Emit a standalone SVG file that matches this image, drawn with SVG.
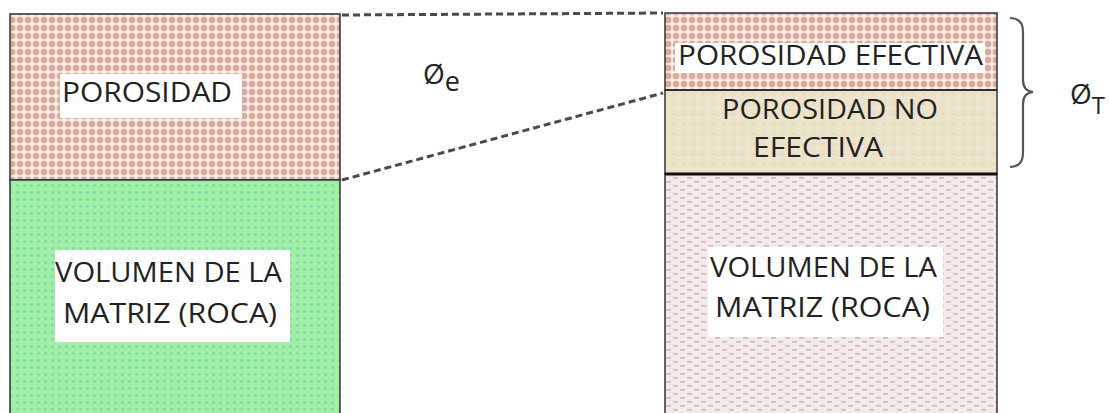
<svg xmlns="http://www.w3.org/2000/svg" width="1109" height="413" viewBox="0 0 1109 413">
<style>
.t{font-family:"Open Sans","Liberation Sans",sans-serif;font-size:27px;fill:#222;}
.sym{font-family:"Open Sans","Liberation Sans",sans-serif;font-size:28px;fill:#222;}
.lbl{fill:#fff;}
.border{stroke:#333;stroke-width:1.5;}
.dash{fill:none;stroke:#4a4a4a;stroke-width:3;stroke-dasharray:7 4;}
</style>
<defs>
<pattern id="pink" width="8" height="8" patternUnits="userSpaceOnUse">
<rect width="8" height="8" fill="#f7e6e0"/>
<circle cx="4" cy="4" r="3.2" fill="#dcaa9c"/>
<circle cx="0" cy="0" r="1.1" fill="#fff"/>
<circle cx="8" cy="0" r="1.1" fill="#fff"/>
<circle cx="0" cy="8" r="1.1" fill="#fff"/>
<circle cx="8" cy="8" r="1.1" fill="#fff"/>
</pattern>
<pattern id="green" width="7" height="7" patternUnits="userSpaceOnUse">
<rect width="7" height="7" fill="#9ff0a6"/>
<circle cx="3.5" cy="3.5" r="1.3" fill="#7ad6a2"/>
</pattern>
<pattern id="rock" width="14" height="8" patternUnits="userSpaceOnUse">
<rect width="14" height="8" fill="#f2ebea"/>
<rect x="1" y="1" width="5" height="1.6" fill="#d7b7bb"/>
<rect x="8" y="5" width="5" height="1.6" fill="#d7b7bb"/>
</pattern>
<pattern id="beige" width="10" height="10" patternUnits="userSpaceOnUse">
<rect width="10" height="10" fill="#ece3ca"/>
<rect x="2" y="3" width="3" height="2" fill="#e3d9bd"/>
<rect x="7" y="7" width="2" height="2" fill="#f2ebdb"/>
</pattern>
</defs>

<g id="left-porosidad">
<rect x="10" y="14" width="330" height="166" fill="url(#pink)" class="border"/>
<rect x="60" y="74" width="182" height="44" class="lbl"/>
<text x="62" y="102" class="t" textLength="170" lengthAdjust="spacingAndGlyphs">POROSIDAD</text>
</g>

<g id="left-matriz">
<rect x="10" y="180" width="330" height="240" fill="url(#green)" class="border"/>
<rect x="55" y="250" width="235" height="92" class="lbl"/>
<text x="55" y="282" class="t" textLength="227" lengthAdjust="spacingAndGlyphs">VOLUMEN DE LA</text>
<text x="63" y="323" class="t" textLength="214" lengthAdjust="spacingAndGlyphs">MATRIZ (ROCA)</text>
</g>

<g id="right-efectiva">
<rect x="665" y="13" width="332" height="77" fill="url(#pink)" class="border"/>
<rect x="675" y="43" width="310" height="30" class="lbl"/>
<text x="678" y="65" class="t" textLength="305" lengthAdjust="spacingAndGlyphs">POROSIDAD EFECTIVA</text>
</g>

<g id="right-no-efectiva">
<rect x="665" y="90" width="332" height="84" fill="url(#beige)" class="border"/>
<text x="722" y="119" class="t" textLength="216" lengthAdjust="spacingAndGlyphs">POROSIDAD NO</text>
<text x="753" y="157" class="t" textLength="130" lengthAdjust="spacingAndGlyphs">EFECTIVA</text>
</g>

<g id="right-matriz">
<rect x="665" y="174" width="332" height="250" fill="url(#rock)" class="border"/>
<line x1="665" y1="174" x2="997" y2="174" stroke="#111" stroke-width="3"/>
<line x1="665" y1="90" x2="997" y2="90" stroke="#3a2a26" stroke-width="2"/>
<rect x="708" y="247" width="235" height="90" class="lbl"/>
<text x="710" y="277" class="t" textLength="227" lengthAdjust="spacingAndGlyphs">VOLUMEN DE LA</text>
<text x="715" y="317" class="t" textLength="215" lengthAdjust="spacingAndGlyphs">MATRIZ (ROCA)</text>
</g>

<g id="phi-e">
<text x="423" y="84" class="sym">Ø<tspan font-size="27" dy="7">e</tspan></text>
</g>

<g id="phi-t">
<text x="1070" y="104" class="sym" font-size="24">Ø<tspan font-size="24" dy="10">T</tspan></text>
</g>

<g id="connectors">
<line x1="342" y1="15" x2="663" y2="13" class="dash"/>
<line x1="342" y1="180" x2="663" y2="93" class="dash"/>
<path d="M1010,18 Q1023,18 1023,32 L1023,80 Q1023,91 1033,92 Q1023,93 1023,104 L1023,153 Q1023,167 1010,167" fill="none" stroke="#555" stroke-width="2.2"/>
</g>
</svg>
